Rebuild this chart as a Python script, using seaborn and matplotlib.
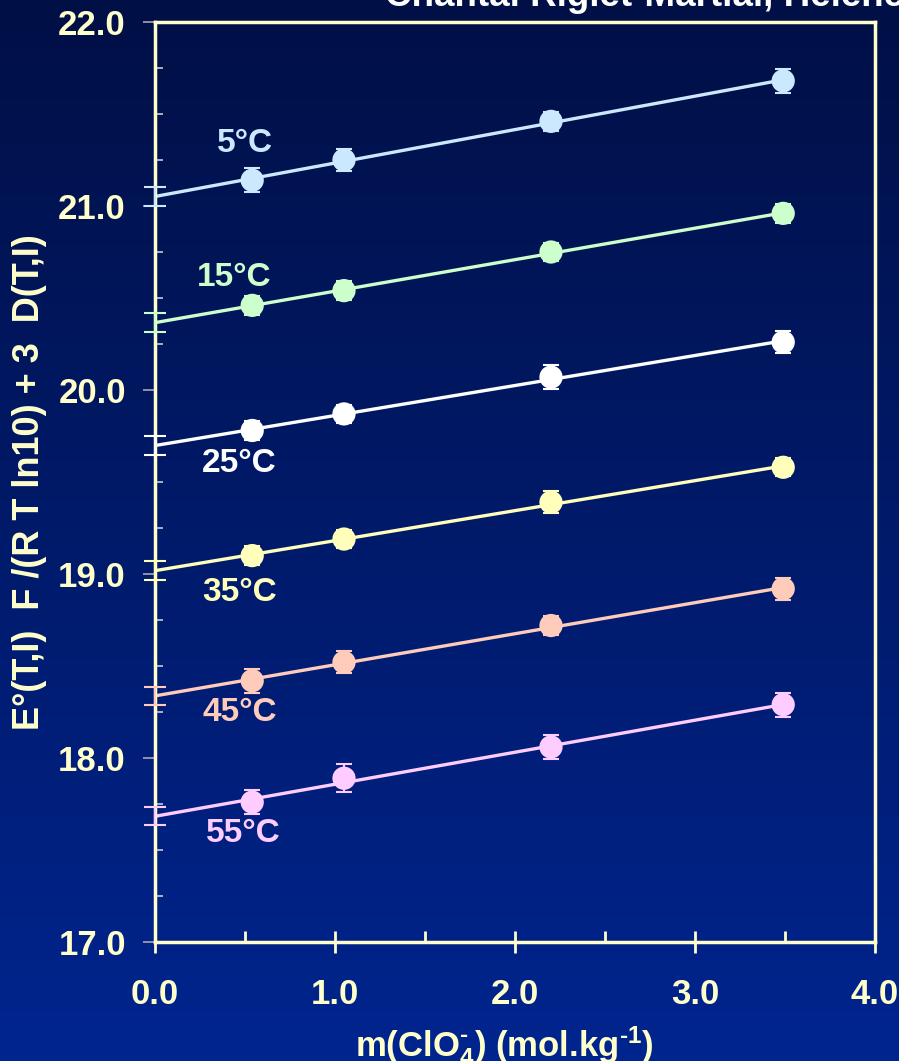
import numpy as np
import pandas as pd
import seaborn as sns
import matplotlib.pyplot as plt
from matplotlib.colors import LinearSegmentedColormap
from matplotlib.ticker import MultipleLocator, FormatStrFormatter

# data
m_clo4 = [0.54, 1.05, 2.20, 3.49]
temps = ["5°C", "15°C", "25°C", "35°C", "45°C", "55°C"]
y_5 = [21.14, 21.25, 21.46, 21.68]
y_15 = [20.46, 20.54, 20.75, 20.96]
y_25 = [19.78, 19.87, 20.07, 20.26]
y_35 = [19.10, 19.19, 19.39, 19.58]
y_45 = [18.42, 18.52, 18.72, 18.92]
y_55 = [17.76, 17.89, 18.06, 18.29]
err_5 = [0.065, 0.06, 0.05, 0.065]
err_15 = [0.05, 0.05, 0.05, 0.05]
err_25 = [0.05, 0.05, 0.065, 0.06]
err_35 = [0.05, 0.05, 0.06, 0.05]
err_45 = [0.065, 0.06, 0.05, 0.06]
err_55 = [0.065, 0.075, 0.065, 0.065]
err_intercept = 0.05
colors = ["#CCE8FF", "#CCFFCC", "#FFFFFF", "#FFFFBB", "#FFCCBB", "#FFCCFF"]
label_pos = [(0.50, 21.34), (0.44, 20.61), (0.47, 19.60),
             (0.47, 18.90), (0.47, 18.245), (0.49, 17.59)]

ys = [y_5, y_15, y_25, y_35, y_45, y_55]
errs = [err_5, err_15, err_25, err_35, err_45, err_55]
df = pd.DataFrame({
    "m": np.tile(m_clo4, len(temps)),
    "E": np.concatenate(ys),
    "err": np.concatenate(errs),
    "T": np.repeat(temps, len(m_clo4)),
})

sns.set_theme(style="ticks")
plt.rcParams['font.family'] = ['Liberation Sans', 'DejaVu Sans']
plt.rcParams['font.weight'] = 'bold'
plt.rcParams['mathtext.fontset'] = 'custom'
plt.rcParams['mathtext.rm'] = 'Liberation Sans:bold'
plt.rcParams['mathtext.bf'] = 'Liberation Sans:bold'
plt.rcParams['mathtext.it'] = 'Liberation Sans:bold'
pale = "#FFFFCC"

fig = plt.figure(figsize=(8.99, 10.61), dpi=100)

# gradient background
bg = fig.add_axes([0, 0, 1, 1], zorder=-5)
cmap = LinearSegmentedColormap.from_list("bg", ["#000F45", "#00258F"])
bg.imshow(np.linspace(0, 1, 256).reshape(-1, 1), aspect="auto", cmap=cmap,
          extent=[0, 1, 0, 1])
bg.set_axis_off()

ax = fig.add_axes([155/899, 1-942/1061, 720/899, 920/1061])
ax.set_facecolor("none")

palette = dict(zip(temps, colors))
for t, c, (lx, ly) in zip(temps, colors, label_pos):
    sub = df[df["T"] == t]
    slope, icpt = np.polyfit(sub["m"], sub["E"], 1)
    fit = pd.DataFrame({"m": [0.0, sub["m"].max()]})
    fit["E"] = icpt + slope * fit["m"]
    sns.lineplot(data=fit, x="m", y="E", color=c, lw=2.4, ax=ax, zorder=2)
    ax.errorbar(sub["m"], sub["E"], yerr=sub["err"], fmt="none", ecolor=c,
                elinewidth=1.5, capsize=6, capthick=1.5, zorder=3)
    ax.errorbar([0.0], [icpt], yerr=[err_intercept], fmt="none", ecolor=c,
                elinewidth=1.5, capsize=8, capthick=1.5, zorder=3, clip_on=False)
    ax.text(lx, ly, t, color=c, fontsize=24, fontweight="bold",
            ha="center", va="center")

sns.scatterplot(data=df, x="m", y="E", hue="T", palette=palette, s=280,
                edgecolor="none", legend=False, ax=ax, zorder=4)

ax.set_xlim(0, 4)
ax.set_ylim(17, 22)
ax.xaxis.set_major_locator(MultipleLocator(1))
ax.xaxis.set_minor_locator(MultipleLocator(0.5))
ax.yaxis.set_major_locator(MultipleLocator(1))
ax.yaxis.set_minor_locator(MultipleLocator(0.25))
ax.xaxis.set_major_formatter(FormatStrFormatter("%.1f"))
ax.yaxis.set_major_formatter(FormatStrFormatter("%.1f"))

for side in ["top", "bottom", "left", "right"]:
    ax.spines[side].set_color(pale)
    ax.spines[side].set_linewidth(2.5)

ax.tick_params(axis="x", which="major", direction="inout", length=16, width=2,
               color=pale, labelcolor=pale, labelsize=25, pad=18)
ax.tick_params(axis="x", which="minor", direction="in", length=8, width=2,
               color=pale)
ax.tick_params(axis="y", which="major", direction="out", length=9, width=1.2,
               color="#A8A8B0", labelcolor=pale, labelsize=25, pad=12)
ax.tick_params(axis="y", which="minor", direction="in", length=6, width=1.2,
               color="#C8C8D0")
for lab in ax.get_xticklabels() + ax.get_yticklabels():
    lab.set_fontweight("bold")

ax.set_xlabel("m(ClO$_{4}^{\\text{-}}$) (mol.kg$^{\\text{-}1}$)",
              color=pale, fontsize=25, fontweight="bold", va="baseline")
ax.xaxis.set_label_coords(0.485, -0.124)
ax.set_ylabel("E°(T,I)  F /(R T ln10) + 3  D(T,I)", color=pale, fontsize=26,
              fontweight="bold", va="center")
ax.yaxis.set_label_coords(-0.174, 0.5)

fig.text(385/899, 1-6/1061, "Chantal Riglet-Martial, Helene", color="white",
         fontsize=26.5, fontweight="bold", ha="left", va="baseline")

plt.savefig("out.png", dpi=100)
